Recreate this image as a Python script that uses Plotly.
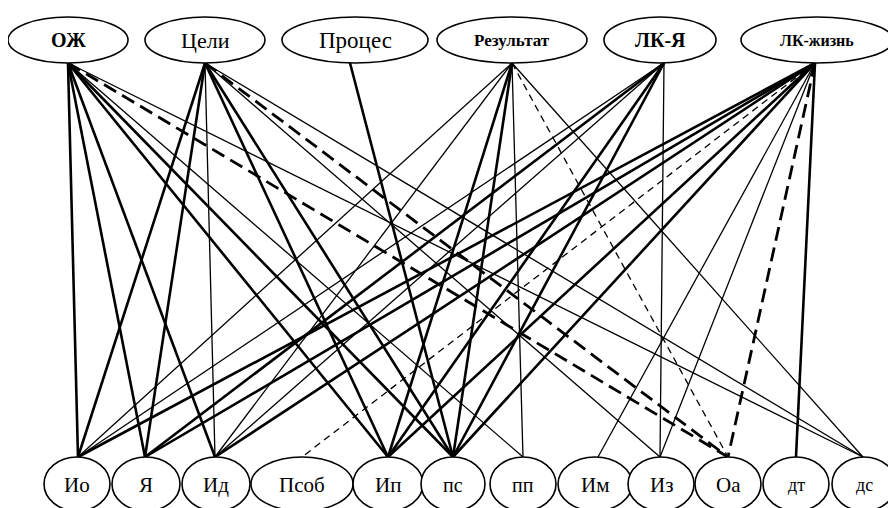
import plotly.graph_objects as go

# ---- data ----
top_labels = ["ОЖ", "Цели", "Процес", "Результат", "ЛК-Я", "ЛК-жизнь"]
bottom_labels = ["Ио", "Я", "Ид", "Псоб", "Ип", "пс", "пп", "Им", "Из", "Оа", "дт", "дс"]

# edges: (top label, bottom label, kind)  kind: T thick, t thin, DT thick dashed, Dt thin dashed
edges_oj = [("ОЖ", "Ио", "T"), ("ОЖ", "Я", "T"), ("ОЖ", "Ид", "T"), ("ОЖ", "Ип", "T"),
            ("ОЖ", "пс", "T"), ("ОЖ", "пп", "t"), ("ОЖ", "Оа", "DT"), ("ОЖ", "дс", "t")]
edges_celi = [("Цели", "Ио", "T"), ("Цели", "Я", "T"), ("Цели", "Ид", "t"), ("Цели", "Ип", "T"),
              ("Цели", "пс", "T"), ("Цели", "Из", "t"), ("Цели", "Оа", "DT"), ("Цели", "дс", "t")]
edges_proc = [("Процес", "пс", "T")]
edges_res = [("Результат", "Ио", "t"), ("Результат", "Ид", "t"), ("Результат", "Ип", "T"),
             ("Результат", "пс", "T"), ("Результат", "пп", "t"), ("Результат", "Оа", "Dt"),
             ("Результат", "дс", "t")]
edges_lky = [("ЛК-Я", "Ио", "t"), ("ЛК-Я", "Я", "T"), ("ЛК-Я", "Ид", "t"), ("ЛК-Я", "Ип", "T"),
             ("ЛК-Я", "пс", "T"), ("ЛК-Я", "Из", "t")]
edges_lkz = [("ЛК-жизнь", "Ио", "T"), ("ЛК-жизнь", "Я", "T"), ("ЛК-жизнь", "Ид", "T"),
             ("ЛК-жизнь", "Псоб", "Dt"), ("ЛК-жизнь", "Ип", "T"), ("ЛК-жизнь", "пс", "T"),
             ("ЛК-жизнь", "Им", "t"), ("ЛК-жизнь", "Из", "t"), ("ЛК-жизнь", "Оа", "DT"),
             ("ЛК-жизнь", "дт", "T")]
edges = edges_oj + edges_celi + edges_proc + edges_res + edges_lky + edges_lkz

# ---- layout (positions in page-pixel coordinates) ----
top_cx = [68, 205, 355, 512, 660, 817]
top_rx = [60, 60, 73, 75, 56, 76]
top_anchor = [68, 205, 350, 512, 664, 815]
top_cy, top_ry = 40, 23
bot_cx = [77, 146, 216, 302, 388, 453, 523, 595, 661, 728, 796, 864]
bot_rx = [33, 34, 34, 51, 35, 32, 33, 37, 33, 33, 33, 32]
bot_anchor = [78, 145, 215, 302, 388, 453, 523, 598, 660, 728, 796, 863]
bot_cy, bot_ry = 484, 27
top_font = [20, 22, 23, 17, 20, 16]
top_bold = [True, False, False, True, True, True]
bot_font = [21, 21, 21, 21, 21, 20, 20, 21, 21, 21, 18, 18]

y_top = top_cy + top_ry
y_bot = bot_cy - bot_ry

styles = {
    "T": dict(width=2.6, dash="solid"),
    "t": dict(width=1.3, dash="solid"),
    "DT": dict(width=2.8, dash="14px,7px"),
    "Dt": dict(width=1.3, dash="7px,5px"),
}

fig = go.Figure()
for kind, st in styles.items():
    xs, ys = [], []
    for a, b, k in edges:
        if k != kind:
            continue
        xs += [top_anchor[top_labels.index(a)], bot_anchor[bottom_labels.index(b)], None]
        ys += [y_top, y_bot, None]
    fig.add_trace(go.Scatter(x=xs, y=ys, mode="lines",
                             line=dict(color="black", width=st["width"], dash=st["dash"]),
                             hoverinfo="skip", showlegend=False))

FONT = "Liberation Serif"
shapes = []
annotations = []
for lab, cx, rx, fs, bold in zip(top_labels, top_cx, top_rx, top_font, top_bold):
    shapes.append(dict(type="circle", xref="x", yref="y", x0=cx - rx, x1=cx + rx,
                       y0=top_cy - top_ry, y1=top_cy + top_ry, fillcolor="white",
                       line=dict(color="black", width=1.6), layer="above"))
    txt = "<b>" + lab + "</b>" if bold else lab
    annotations.append(dict(x=cx, y=top_cy, text=txt, showarrow=False,
                            xref="x", yref="y",
                            font=dict(family=FONT, size=fs, color="black")))
for lab, cx, rx, fs in zip(bottom_labels, bot_cx, bot_rx, bot_font):
    shapes.append(dict(type="circle", xref="x", yref="y", x0=cx - rx, x1=cx + rx,
                       y0=bot_cy - bot_ry, y1=bot_cy + bot_ry, fillcolor="white",
                       line=dict(color="black", width=1.6), layer="above"))
    annotations.append(dict(x=cx, y=bot_cy + 1, text=lab, showarrow=False,
                            xref="x", yref="y",
                            font=dict(family=FONT, size=fs, color="black")))

# the page body has an 8px margin; the figure is sized and ranged so that
# coordinate values equal page pixels
fig.update_layout(
    width=888, height=500, margin=dict(l=0, r=0, t=0, b=0),
    paper_bgcolor="white", plot_bgcolor="white",
    xaxis=dict(range=[8, 896], visible=False, fixedrange=True),
    yaxis=dict(range=[508, 8], visible=False, fixedrange=True),
    shapes=shapes, annotations=annotations, showlegend=False,
)
fig.write_html("out.html")
